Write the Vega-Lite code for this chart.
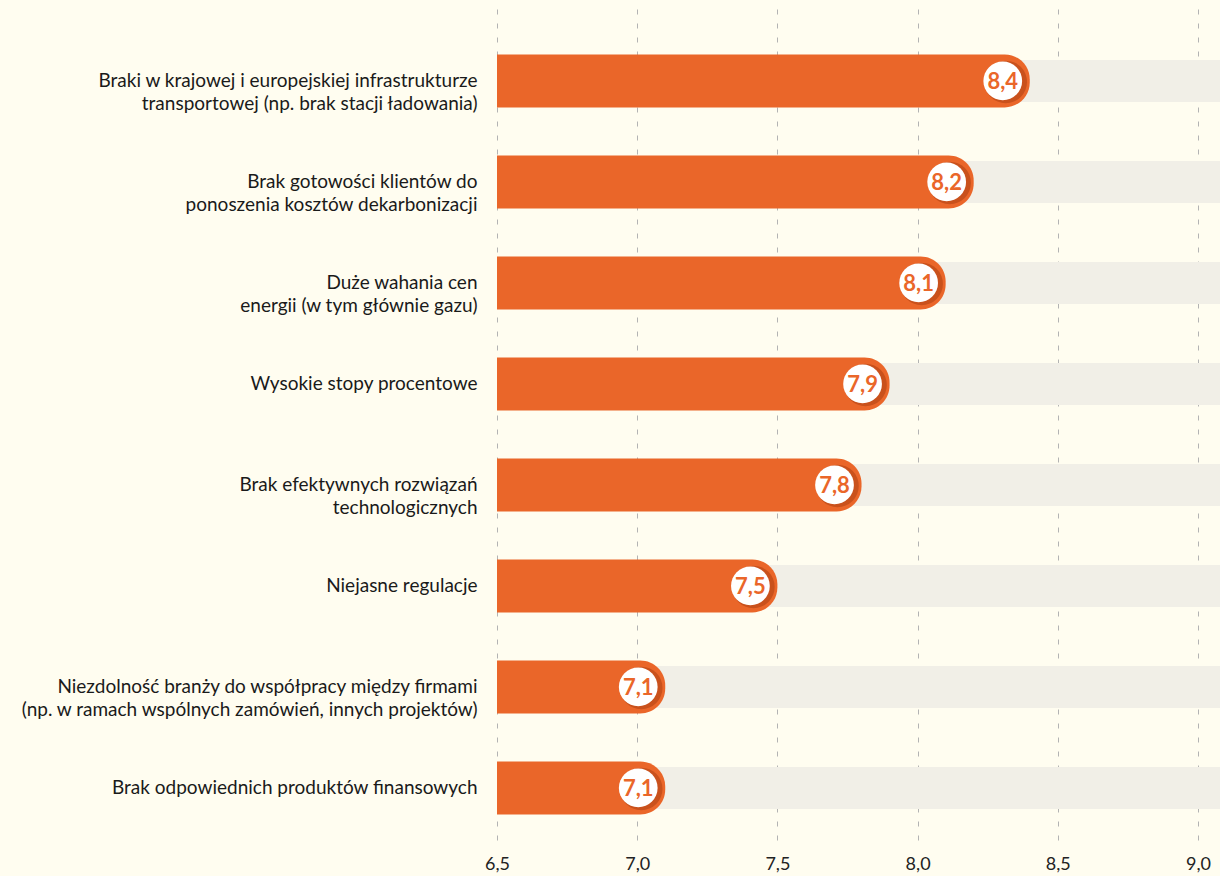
{
  "$schema": "https://vega.github.io/schema/vega-lite/v6.json",
  "width": 701,
  "height": 840,
  "autosize": {"type": "none"},
  "padding": {"left": 497, "top": 0, "right": 22, "bottom": 36},
  "background": "#fffdf0",
  "config": {
    "view": {"stroke": null},
    "locale": {"number": {"decimal": ",", "thousands": " ", "grouping": [3], "currency": ["", " zł"]}},
    "font": "Lato"
  },
  "data": {
    "values": [
      {"label": "Braki w krajowej i europejskiej infrastrukturze\ntransportowej (np. brak stacji ładowania)", "value": 8.4},
      {"label": "Brak gotowości klientów do\nponoszenia kosztów dekarbonizacji", "value": 8.2},
      {"label": "Duże wahania cen\nenergii (w tym głównie gazu)", "value": 8.1},
      {"label": "Wysokie stopy procentowe", "value": 7.9},
      {"label": "Brak efektywnych rozwiązań\ntechnologicznych", "value": 7.8},
      {"label": "Niejasne regulacje", "value": 7.5},
      {"label": "Niezdolność branży do współpracy między firmami\n(np. w ramach wspólnych zamówień, innych projektów)", "value": 7.1},
      {"label": "Brak odpowiednich produktów finansowych", "value": 7.1}
    ]
  },
  "encoding": {
    "y": {
      "field": "label",
      "type": "nominal",
      "sort": null,
      "scale": {"paddingInner": 0, "paddingOuter": 0.1584, "align": 0.95},
      "axis": {
        "title": null,
        "domain": false,
        "ticks": false,
        "grid": false,
        "labelExpr": "split(datum.label, '\\n')",
        "labelFont": "Lato",
        "labelFontSize": 19,
        "labelColor": "#1a1a1a",
        "labelPadding": 20,
        "labelLineHeight": 23,
        "labelLimit": 0
      }
    }
  },
  "layer": [
    {
      "mark": {"type": "bar", "height": 42, "color": "#f1efe7"},
      "encoding": {
        "x": {
          "datum": 6.5,
          "type": "quantitative",
          "scale": {"domain": [6.5, 9.0], "zero": false, "nice": false},
          "axis": {
            "title": null,
            "values": [6.5, 7.0, 7.5, 8.0, 8.5, 9.0],
            "format": ".1f",
            "domain": false,
            "ticks": false,
            "grid": true,
            "gridDash": [5, 9],
            "gridColor": "#b3b3b3",
            "gridWidth": 1,
            "labelFlush": false,
            "labelFont": "Lato",
            "labelFontSize": 18,
            "labelColor": "#222222",
            "labelPadding": 15
          }
        },
        "x2": {"datum": 9.08}
      }
    },
    {
      "mark": {"type": "bar", "height": 53, "color": "#ea6629", "cornerRadiusTopRight": 25, "cornerRadiusBottomRight": 25},
      "encoding": {
        "x": {"field": "value", "type": "quantitative"},
        "x2": {"datum": 6.5}
      }
    },
    {
      "mark": {"type": "circle", "size": 1810, "opacity": 1, "color": "#c9511c", "xOffset": -24, "yOffset": 1},
      "encoding": {"x": {"field": "value", "type": "quantitative"}}
    },
    {
      "mark": {"type": "circle", "size": 1500, "opacity": 1, "color": "#ffffff", "xOffset": -27},
      "encoding": {"x": {"field": "value", "type": "quantitative"}}
    },
    {
      "mark": {"type": "text", "xOffset": -27, "yOffset": 1, "font": "Lato", "fontWeight": "bold", "fontSize": 22, "color": "#ea6629", "align": "center", "baseline": "middle"},
      "encoding": {
        "x": {"field": "value", "type": "quantitative"},
        "text": {"field": "value", "type": "quantitative", "format": ".1f"}
      }
    }
  ]
}
